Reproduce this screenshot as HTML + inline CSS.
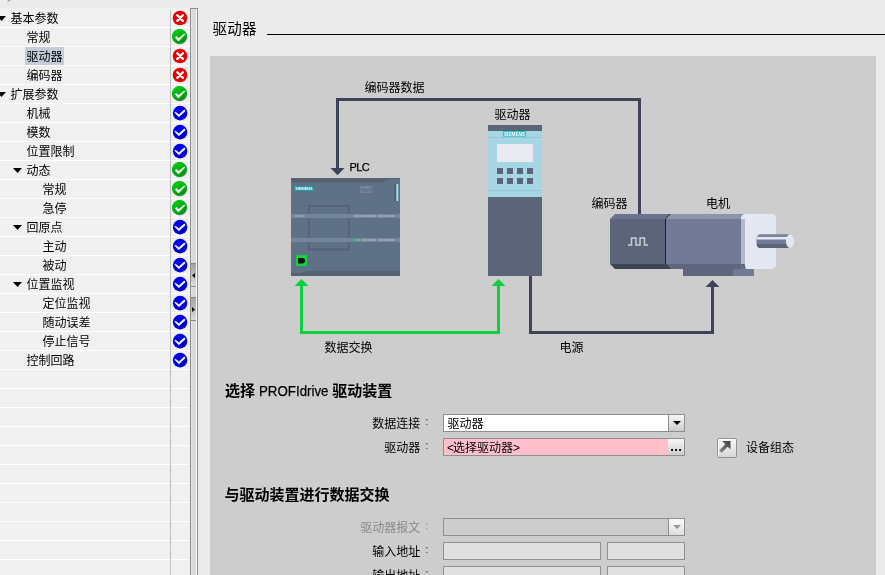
<!DOCTYPE html><html lang="zh-CN"><head><meta charset="utf-8"><title>驱动器</title><style>
html,body{margin:0;padding:0}
body{width:885px;height:575px;overflow:hidden;position:relative;background:#ebebeb;font-family:"Liberation Sans","Noto Sans CJK SC",sans-serif;font-size:12px;color:#000;line-height:1}
#w{position:absolute;left:0;top:0;width:885px;height:575px;will-change:transform}
.a{position:absolute}
.t{position:absolute;white-space:nowrap;line-height:14px;height:14px}
#tree{position:absolute;left:0;top:8px;width:190px;height:567px;background:#f0f0f0}
.row{position:absolute;left:0;width:190px;height:18px;border-bottom:1px solid #fff}
.row .lb{position:absolute;top:0;line-height:20px;height:18px;padding:0 1px 0 2px;margin-left:-2px;white-space:nowrap;font-size:12px}
.row .ar{position:absolute;top:7px;width:9px;height:5px;background:#000;clip-path:polygon(0 0,100% 0,50% 100%)}
.row svg{position:absolute;left:172px;top:1px}
.sel{background:#c3ced9;}
.h{font-weight:bold;font-size:15px;line-height:18px;height:18px}
.inp{position:absolute;box-sizing:border-box;border:1px solid #8e8e8e;height:18px}
</style></head><body><div id="w">
<svg width="0" height="0" style="position:absolute"><defs><linearGradient id="gg" x1="0.2" y1="0" x2="0.8" y2="1"><stop offset="0" stop-color="#00d012"/><stop offset="1" stop-color="#0c8a18"/></linearGradient><linearGradient id="gb" x1="0.2" y1="0" x2="0.8" y2="1"><stop offset="0" stop-color="#0000f0"/><stop offset="1" stop-color="#0000c4"/></linearGradient></defs></svg>
<div id="tree">
<div class="row" style="top:1px"><span class="ar" style="left:-3px"></span><span class="lb" style="left:10.5px">基本参数</span><svg width="16" height="16" viewBox="0 0 16 16"><circle cx="8" cy="8" r="7.3" fill="#e60000"/><path d="M5.300 5.300 L10.900 10.900 M10.900 5.300 L5.300 10.900" stroke="#fff" stroke-width="2.300" stroke-linecap="round"/></svg></div>
<div class="row" style="top:20px"><span class="lb" style="left:26.5px">常规</span><svg width="16" height="16" viewBox="0 0 16 16"><circle cx="8.300" cy="8.400" r="7.300" fill="#b9a8e0" opacity="0.500"/><circle cx="7.500" cy="7.500" r="7.600" fill="url(#gg)"/><path d="M3.300 8.200 L4.800 7.500 L6.700 9.400 L11.800 5.300 L13 5.300 L6.400 12 Z" fill="#fff" stroke="#fff" stroke-width="0.700" stroke-linejoin="round"/></svg></div>
<div class="row" style="top:39px"><span class="lb sel" style="left:26.5px">驱动器</span><svg width="16" height="16" viewBox="0 0 16 16"><circle cx="8" cy="8" r="7.3" fill="#e60000"/><path d="M5.300 5.300 L10.900 10.900 M10.900 5.300 L5.300 10.900" stroke="#fff" stroke-width="2.300" stroke-linecap="round"/></svg></div>
<div class="row" style="top:58px"><span class="lb" style="left:26.5px">编码器</span><svg width="16" height="16" viewBox="0 0 16 16"><circle cx="8" cy="8" r="7.3" fill="#e60000"/><path d="M5.300 5.300 L10.900 10.900 M10.900 5.300 L5.300 10.900" stroke="#fff" stroke-width="2.300" stroke-linecap="round"/></svg></div>
<div class="row" style="top:77px"><span class="ar" style="left:-3px"></span><span class="lb" style="left:10.5px">扩展参数</span><svg width="16" height="16" viewBox="0 0 16 16"><circle cx="8.300" cy="8.400" r="7.300" fill="#b9a8e0" opacity="0.500"/><circle cx="7.500" cy="7.500" r="7.600" fill="url(#gg)"/><path d="M3.300 8.200 L4.800 7.500 L6.700 9.400 L11.800 5.300 L13 5.300 L6.400 12 Z" fill="#fff" stroke="#fff" stroke-width="0.700" stroke-linejoin="round"/></svg></div>
<div class="row" style="top:96px"><span class="lb" style="left:26.5px">机械</span><svg width="16" height="16" viewBox="0 0 16 16"><circle cx="8.100" cy="8.100" r="7.300" fill="url(#gb)"/><path d="M2.700 7.600 L3.700 7.300 L6.900 9.700 L12 5.100 L13 5.300 L13 6.300 L6.800 11.800 Z" fill="#fff" stroke="#fff" stroke-width="0.600" stroke-linejoin="round"/></svg></div>
<div class="row" style="top:115px"><span class="lb" style="left:26.5px">模数</span><svg width="16" height="16" viewBox="0 0 16 16"><circle cx="8.100" cy="8.100" r="7.300" fill="url(#gb)"/><path d="M2.700 7.600 L3.700 7.300 L6.900 9.700 L12 5.100 L13 5.300 L13 6.300 L6.800 11.800 Z" fill="#fff" stroke="#fff" stroke-width="0.600" stroke-linejoin="round"/></svg></div>
<div class="row" style="top:134px"><span class="lb" style="left:26.5px">位置限制</span><svg width="16" height="16" viewBox="0 0 16 16"><circle cx="8.100" cy="8.100" r="7.300" fill="url(#gb)"/><path d="M2.700 7.600 L3.700 7.300 L6.900 9.700 L12 5.100 L13 5.300 L13 6.300 L6.800 11.800 Z" fill="#fff" stroke="#fff" stroke-width="0.600" stroke-linejoin="round"/></svg></div>
<div class="row" style="top:153px"><span class="ar" style="left:13px"></span><span class="lb" style="left:26.5px">动态</span><svg width="16" height="16" viewBox="0 0 16 16"><circle cx="8.300" cy="8.400" r="7.300" fill="#b9a8e0" opacity="0.500"/><circle cx="7.500" cy="7.500" r="7.600" fill="url(#gg)"/><path d="M3.300 8.200 L4.800 7.500 L6.700 9.400 L11.800 5.300 L13 5.300 L6.400 12 Z" fill="#fff" stroke="#fff" stroke-width="0.700" stroke-linejoin="round"/></svg></div>
<div class="row" style="top:172px"><span class="lb" style="left:42.5px">常规</span><svg width="16" height="16" viewBox="0 0 16 16"><circle cx="8.300" cy="8.400" r="7.300" fill="#b9a8e0" opacity="0.500"/><circle cx="7.500" cy="7.500" r="7.600" fill="url(#gg)"/><path d="M3.300 8.200 L4.800 7.500 L6.700 9.400 L11.800 5.300 L13 5.300 L6.400 12 Z" fill="#fff" stroke="#fff" stroke-width="0.700" stroke-linejoin="round"/></svg></div>
<div class="row" style="top:191px"><span class="lb" style="left:42.5px">急停</span><svg width="16" height="16" viewBox="0 0 16 16"><circle cx="8.300" cy="8.400" r="7.300" fill="#b9a8e0" opacity="0.500"/><circle cx="7.500" cy="7.500" r="7.600" fill="url(#gg)"/><path d="M3.300 8.200 L4.800 7.500 L6.700 9.400 L11.800 5.300 L13 5.300 L6.400 12 Z" fill="#fff" stroke="#fff" stroke-width="0.700" stroke-linejoin="round"/></svg></div>
<div class="row" style="top:210px"><span class="ar" style="left:13px"></span><span class="lb" style="left:26.5px">回原点</span><svg width="16" height="16" viewBox="0 0 16 16"><circle cx="8.100" cy="8.100" r="7.300" fill="url(#gb)"/><path d="M2.700 7.600 L3.700 7.300 L6.900 9.700 L12 5.100 L13 5.300 L13 6.300 L6.800 11.800 Z" fill="#fff" stroke="#fff" stroke-width="0.600" stroke-linejoin="round"/></svg></div>
<div class="row" style="top:229px"><span class="lb" style="left:42.5px">主动</span><svg width="16" height="16" viewBox="0 0 16 16"><circle cx="8.100" cy="8.100" r="7.300" fill="url(#gb)"/><path d="M2.700 7.600 L3.700 7.300 L6.900 9.700 L12 5.100 L13 5.300 L13 6.300 L6.800 11.800 Z" fill="#fff" stroke="#fff" stroke-width="0.600" stroke-linejoin="round"/></svg></div>
<div class="row" style="top:248px"><span class="lb" style="left:42.5px">被动</span><svg width="16" height="16" viewBox="0 0 16 16"><circle cx="8.100" cy="8.100" r="7.300" fill="url(#gb)"/><path d="M2.700 7.600 L3.700 7.300 L6.900 9.700 L12 5.100 L13 5.300 L13 6.300 L6.800 11.800 Z" fill="#fff" stroke="#fff" stroke-width="0.600" stroke-linejoin="round"/></svg></div>
<div class="row" style="top:267px"><span class="ar" style="left:13px"></span><span class="lb" style="left:26.5px">位置监视</span><svg width="16" height="16" viewBox="0 0 16 16"><circle cx="8.100" cy="8.100" r="7.300" fill="url(#gb)"/><path d="M2.700 7.600 L3.700 7.300 L6.900 9.700 L12 5.100 L13 5.300 L13 6.300 L6.800 11.800 Z" fill="#fff" stroke="#fff" stroke-width="0.600" stroke-linejoin="round"/></svg></div>
<div class="row" style="top:286px"><span class="lb" style="left:42.5px">定位监视</span><svg width="16" height="16" viewBox="0 0 16 16"><circle cx="8.100" cy="8.100" r="7.300" fill="url(#gb)"/><path d="M2.700 7.600 L3.700 7.300 L6.900 9.700 L12 5.100 L13 5.300 L13 6.300 L6.800 11.800 Z" fill="#fff" stroke="#fff" stroke-width="0.600" stroke-linejoin="round"/></svg></div>
<div class="row" style="top:305px"><span class="lb" style="left:42.5px">随动误差</span><svg width="16" height="16" viewBox="0 0 16 16"><circle cx="8.100" cy="8.100" r="7.300" fill="url(#gb)"/><path d="M2.700 7.600 L3.700 7.300 L6.900 9.700 L12 5.100 L13 5.300 L13 6.300 L6.800 11.800 Z" fill="#fff" stroke="#fff" stroke-width="0.600" stroke-linejoin="round"/></svg></div>
<div class="row" style="top:324px"><span class="lb" style="left:42.5px">停止信号</span><svg width="16" height="16" viewBox="0 0 16 16"><circle cx="8.100" cy="8.100" r="7.300" fill="url(#gb)"/><path d="M2.700 7.600 L3.700 7.300 L6.900 9.700 L12 5.100 L13 5.300 L13 6.300 L6.800 11.800 Z" fill="#fff" stroke="#fff" stroke-width="0.600" stroke-linejoin="round"/></svg></div>
<div class="row" style="top:343px"><span class="lb" style="left:26.5px">控制回路</span><svg width="16" height="16" viewBox="0 0 16 16"><circle cx="8.100" cy="8.100" r="7.300" fill="url(#gb)"/><path d="M2.700 7.600 L3.700 7.300 L6.900 9.700 L12 5.100 L13 5.300 L13 6.300 L6.800 11.800 Z" fill="#fff" stroke="#fff" stroke-width="0.600" stroke-linejoin="round"/></svg></div>
<div class="row" style="top:362px"></div>
<div class="row" style="top:381px"></div>
<div class="row" style="top:400px"></div>
<div class="row" style="top:419px"></div>
<div class="row" style="top:438px"></div>
<div class="row" style="top:457px"></div>
<div class="row" style="top:476px"></div>
<div class="row" style="top:495px"></div>
<div class="row" style="top:514px"></div>
<div class="row" style="top:533px"></div>
<div class="row" style="top:552px"></div>
<div class="a" style="left:170px;top:2px;width:1px;height:565px;background:#c0c0c0"></div>
</div>
<div class="a" style="left:190px;top:8px;width:8px;height:567px;box-sizing:border-box;border:1px solid #8e8e8e;border-bottom:0;background:linear-gradient(90deg,#e2e2e2 0,#e2e2e2 1px,#dadada 1px,#dadada 5px,#fafafa 5px,#fafafa 6px)"></div>
<div class="a" style="left:191px;top:263px;width:5px;height:24px;background:linear-gradient(#a4a4a4,#b8b8b8 40%,#dedede);border-top:1px solid #8a8a8a;border-bottom:1px solid #8a8a8a;box-sizing:border-box"></div>
<div class="a" style="left:192px;top:273px;width:3px;height:5px;background:#000;clip-path:polygon(100% 0,100% 100%,0 50%)"></div>
<div class="a" style="left:191px;top:297px;width:5px;height:24px;background:linear-gradient(#a4a4a4,#b8b8b8 40%,#dedede);border-top:1px solid #8a8a8a;border-bottom:1px solid #8a8a8a;box-sizing:border-box"></div>
<div class="a" style="left:192px;top:307px;width:3px;height:5px;background:#000;clip-path:polygon(0 0,0 100%,100% 50%)"></div>
<svg class="a" style="left:5px;top:0" width="8" height="3" viewBox="0 0 8 3"><path d="M2 1.900 L3.300 0 H6 L3 2.100 Z" fill="#9aa4bb"/><path d="M0.800 0 H2.800 L1.600 1.600 Z" fill="#f8f8f8"/></svg>
<div class="t" style="left:212.500px;top:20px;font-size:14.500px;letter-spacing:0.300px;line-height:18px;height:18px">驱动器</div>
<div class="a" style="left:267px;top:34px;width:618px;height:1px;background:#000"></div>
<div class="a" style="left:210px;top:56px;width:666px;height:519px;background:#cdcdcd"></div>
<svg class="a" style="left:0;top:0" width="885" height="575" viewBox="0 0 885 575" font-family='"Liberation Sans","Noto Sans CJK SC",sans-serif'>
<g fill="none" stroke="#3d4458" stroke-width="3">
<path d="M639.5 214 V99.5 H337.5 V169"/>
<path d="M530.5 276 V332.5 H712.5 V287"/>
</g>
<path d="M330.500 168 H344.500 L337.500 175.200 Z" fill="#3d4458"/>
<path d="M705.5 287 H719.5 L712.5 280 Z" fill="#3d4458"/>
<g fill="none" stroke="#0cd13c" stroke-width="3">
<path d="M301.5 286 V332.500 H498.500 V286"/>
</g>
<path d="M294.5 286 H308.5 L301.5 279 Z" fill="#0cd13c"/>
<path d="M491.5 286 H505.5 L498.5 279 Z" fill="#0cd13c"/>
<!-- PLC -->
<rect x="291" y="178" width="109" height="98" fill="#5f7186"/>
<path d="M291 178 H400 V179 H390 Q386 179 383 182.500 H291 Z" fill="#546273"/>
<path d="M291 276 H400 V271 H308 Q304 271 302 273 H291 Z" fill="#546273"/>
<rect x="309" y="206" width="40" height="43.500" fill="none" stroke="#556375" stroke-width="2"/>
<rect x="291" y="214" width="109" height="4" fill="#74869a"/>
<rect x="291" y="238" width="109" height="4" fill="#74869a"/>
<g fill="#9dabba">
<path d="M295 215 h2 v2 h-2z M298 215 h2 v2 h-2z M301 215 h2 v2 h-2z"/>
<path d="M354.0 215 h2 v2 h-2z M356.8 215 h2 v2 h-2z M359.6 215 h2 v2 h-2z M362.4 215 h2 v2 h-2z M365.2 215 h2 v2 h-2z M368.0 215 h2 v2 h-2z M370.8 215 h2 v2 h-2z M373.6 215 h2 v2 h-2z M378.0 215 h2 v2 h-2z M380.8 215 h2 v2 h-2z M383.6 215 h2 v2 h-2z M386.4 215 h2 v2 h-2z M389.2 215 h2 v2 h-2z M392.0 215 h2 v2 h-2z "/>
<path d="M354.00 239 h2 v2 h-2z M356.75 239 h2 v2 h-2z M359.50 239 h2 v2 h-2z M362.25 239 h2 v2 h-2z M365.00 239 h2 v2 h-2z M367.75 239 h2 v2 h-2z M370.50 239 h2 v2 h-2z M373.25 239 h2 v2 h-2z M378.50 239 h2 v2 h-2z M381.25 239 h2 v2 h-2z M384.00 239 h2 v2 h-2z M386.75 239 h2 v2 h-2z M389.50 239 h2 v2 h-2z M392.25 239 h2 v2 h-2z "/>
</g>
<rect x="354" y="239" width="2" height="2" fill="#12d23c"/>
<rect x="359.5" y="239" width="2" height="2" fill="#12d23c"/>
<rect x="294.500" y="186" width="19" height="5" fill="#1a9ba8"/>
<text x="295.300" y="190.200" font-size="4.300" font-weight="bold" fill="#fff" textLength="17.400" lengthAdjust="spacingAndGlyphs">SIEMENS</text>
<text x="360" y="189" font-size="3.200" fill="#9aa6b5">SIMATIC</text>
<text x="360" y="193" font-size="3.200" fill="#9aa6b5">S7-1200</text>
<rect x="394.500" y="184" width="2" height="17" fill="#4d5a6b"/>
<rect x="396.300" y="184" width="2" height="17" fill="#a6e0ee"/>
<rect x="296" y="255" width="11" height="11" fill="#12d23c"/>
<path d="M298 258 H303 L305 259.500 V262 L303 263.500 H298 Z" fill="#111"/>
<!-- Drive -->
<rect x="488" y="125" width="54" height="151" fill="#5c6479"/>
<rect x="488" y="131" width="54" height="66" fill="#a6d5e3"/>
<rect x="488" y="137" width="54" height="1" fill="#93c6d4"/>
<rect x="488" y="190" width="54" height="1" fill="#93c6d4"/>
<rect x="503" y="131" width="23" height="5.600" fill="#2bbfc9"/>
<text x="504" y="135.800" font-size="4.800" font-weight="bold" fill="#fff" textLength="21" lengthAdjust="spacingAndGlyphs">SIEMENS</text>
<rect x="497" y="144" width="36" height="18" fill="#eaebf2"/>
<g fill="#5c6479">
<rect x="497" y="168" width="6" height="6"/><rect x="507" y="168" width="6" height="6"/><rect x="517" y="168" width="6" height="6"/><rect x="527" y="168" width="6" height="6"/><rect x="497" y="178" width="6" height="6"/><rect x="507" y="178" width="6" height="6"/><rect x="517" y="178" width="6" height="6"/><rect x="527" y="178" width="6" height="6"/>
</g>
<!-- Encoder + motor -->
<path d="M610 219 L615 214 H670 L665 219 Z" fill="#6b7390"/>
<rect x="610" y="219" width="55" height="45" fill="#5c6479"/>
<path d="M610 264 L615 269 H670 L665 264 Z" fill="#3d4458"/>
<path d="M670 214 H745 V219 H665 Z" fill="#8b96ab"/>
<rect x="665" y="219" width="76" height="45" fill="#727a96"/>
<path d="M665 264 H745 V269 H670 Z" fill="#5e667d"/>
<path d="M670 214 L665.500 219 V264 L670 269" fill="none" stroke="#1d1f26" stroke-width="1"/>
<rect x="683" y="269" width="50" height="7" fill="#5e667d"/>
<rect x="733" y="269" width="21" height="7" fill="#727a96"/>
<path d="M741 264 H746 V269 H741 Z" fill="#5e667d"/>
<rect x="741" y="214" width="35" height="55" rx="4.500" ry="4.500" fill="#e4e8f2"/>
<path d="M741 219 H745 V264 Q745 267 746.500 268.500 L741.500 265 Q741 264.500 741 264 Z" fill="#b4b9cc"/>
<path d="M741 264 Q741 269 746 269 Q744.700 268 744.700 264 Z" fill="#5e667d"/>
<rect x="756.500" y="234.500" width="34" height="13.500" rx="3.500" ry="5" fill="#727a96"/>
<path d="M759.500 234.500 H790 V237 H757.300 Q758 235 759.500 234.500 Z" fill="#7b839e"/>
<rect x="756.800" y="237" width="33" height="2.500" fill="#e4e8f2"/>
<path d="M756.600 244 H790 V248 H759.500 Q757 247.500 756.600 244 Z" fill="#5c6479"/>
<ellipse cx="790" cy="241.300" rx="4" ry="6.700" fill="#e4e8f2"/>
<path d="M628 245 H631.500 V238 H636 V245 H640 V238 H644.500 V245 H648" fill="none" stroke="#c9cdd8" stroke-width="1.500"/>
</svg>
<div class="t" style="left:364.5px;top:81px;">编码器数据</div>
<div class="t" style="left:494.5px;top:108px;">驱动器</div>
<div class="t" style="left:349.5px;top:160px;font-size:11px;letter-spacing:-0.600px;-webkit-text-stroke:0.250px #000">PLC</div>
<div class="t" style="left:591.5px;top:197px;">编码器</div>
<div class="t" style="left:706px;top:197px;">电机</div>
<div class="t" style="left:324.5px;top:341px;">数据交换</div>
<div class="t" style="left:559.5px;top:341px;">电源</div>
<div class="t" style="left:225px;top:382px;font-weight:bold;font-size:15px;line-height:18px;height:18px">选择 <span style="font-weight:normal;display:inline-block;transform:scaleX(0.887);transform-origin:0 50%;width:73px;-webkit-text-stroke:0.250px #000">PROFIdrive</span>驱动装置</div>
<div class="t" style="left:224.5px;top:486px;font-weight:bold;font-size:15px;line-height:18px;height:18px">与驱动装置进行数据交换</div>
<div class="t" style="left:372.300px;top:417px;color:#000">数据连接<span style="position:relative;top:-3px;margin-left:5px;font-size:11px;opacity:0.800">:</span></div>
<div class="t" style="left:384.300px;top:441px;color:#000">驱动器<span style="position:relative;top:-3px;margin-left:5px;font-size:11px;opacity:0.800">:</span></div>
<div class="t" style="left:360.300px;top:521px;color:#8a8a8a">驱动器报文<span style="position:relative;top:-3px;margin-left:5px;font-size:11px;opacity:0.800">:</span></div>
<div class="t" style="left:372.300px;top:545px;color:#000">输入地址<span style="position:relative;top:-3px;margin-left:5px;font-size:11px;opacity:0.800">:</span></div>
<div class="t" style="left:372.300px;top:569px;color:#000">输出地址<span style="position:relative;top:-3px;margin-left:5px;font-size:11px;opacity:0.800">:</span></div>
<div class="inp" style="left:443px;top:414px;width:242px;background:#fff"><span class="t" style="left:3.500px;top:2px">驱动器</span></div>
<div class="a" style="left:668px;top:415px;width:16px;height:16px;background:linear-gradient(#f6f6f6,#e6e6e6 45%,#cbcbcb);border-left:1px solid #8e8e8e;box-sizing:border-box"></div>
<div class="a" style="left:673px;top:421px;width:8px;height:4px;background:#000;clip-path:polygon(0 0,100% 0,50% 100%)"></div>
<div class="inp" style="left:443px;top:438px;width:242px;background:#ffc0cb"><span class="t" style="left:3px;top:2px"><span style="letter-spacing:-1px">&lt;</span>选择驱动器&gt;</span></div>
<div class="a" style="left:668px;top:439px;width:16px;height:16px;background:linear-gradient(#f6f6f6,#e6e6e6 45%,#cbcbcb);box-sizing:border-box"></div>
<div class="t" style="left:670.200px;top:440px;font-weight:bold;font-size:13px;letter-spacing:0.400px">...</div>
<div class="a" style="left:717px;top:438px;width:20px;height:20px;box-sizing:border-box;border:1px solid #929292;border-radius:2px;background:linear-gradient(#f6f6f6,#e8e8e8 50%,#d6d6d6);box-shadow:inset 1px 1px 0 0 #fff"></div>
<svg class="a" style="left:717px;top:438px" width="20" height="20" viewBox="0 0 20 20"><defs><linearGradient id="ga" x1="1" y1="0" x2="0" y2="1"><stop offset="0" stop-color="#3c3c3c"/><stop offset="1" stop-color="#8c8c8c"/></linearGradient></defs><path d="M5 3 H13.500 V11.500 L10.700 8.700 L4.600 14.800 L2.200 12.400 L8.300 6.300 Z" fill="url(#ga)"/></svg>
<div class="t" style="left:746px;top:441px;">设备组态</div>
<div class="inp" style="left:443px;top:518px;width:242px;background:#cdcdcd"></div>
<div class="a" style="left:668px;top:519px;width:16px;height:16px;background:linear-gradient(#fafafa,#f0f0f0 45%,#dcdcdc);border-left:1px solid #8e8e8e;box-sizing:border-box"></div>
<div class="a" style="left:673px;top:525px;width:8px;height:4px;background:#9a9a9a;clip-path:polygon(0 0,100% 0,50% 100%)"></div>
<div class="inp" style="left:443px;top:542px;width:158px;background:#e0e0e0"></div>
<div class="inp" style="left:607px;top:542px;width:78px;background:#e0e0e0"></div>
<div class="inp" style="left:443px;top:566px;width:158px;background:#e0e0e0"></div>
<div class="inp" style="left:607px;top:566px;width:78px;background:#e0e0e0"></div>
</div></body></html>
